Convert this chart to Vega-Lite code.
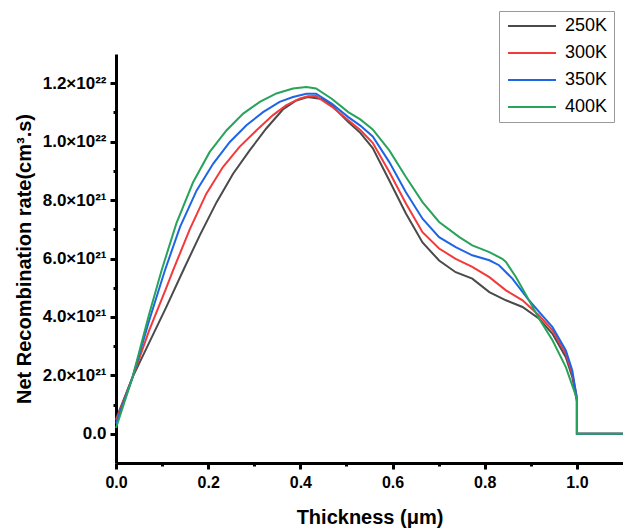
{
  "$schema": "https://vega.github.io/schema/vega-lite/v6.json",
  "width": 507,
  "height": 409,
  "autosize": {"type": "none"},
  "padding": {"left": 116, "top": 54, "right": 0, "bottom": 68},
  "background": "white",
  "config": {
    "view": {"stroke": null},
    "font": "Liberation Sans"
  },
  "data": {"values": [
    {"T":"250K","x":0,"y":0.5e21},{"T":"250K","x":0.036,"y":1.94e21},{"T":"250K","x":0.072,"y":3.12e21},{"T":"250K","x":0.108,"y":4.3e21},{"T":"250K","x":0.149,"y":5.7e21},{"T":"250K","x":0.182,"y":6.8e21},{"T":"250K","x":0.218,"y":7.92e21},{"T":"250K","x":0.254,"y":8.9e21},{"T":"250K","x":0.29,"y":9.7e21},{"T":"250K","x":0.326,"y":10.45e21},{"T":"250K","x":0.362,"y":11.1e21},{"T":"250K","x":0.391,"y":11.41e21},{"T":"250K","x":0.416,"y":11.53e21},{"T":"250K","x":0.45,"y":11.45e21},{"T":"250K","x":0.468,"y":11.24e21},{"T":"250K","x":0.504,"y":10.67e21},{"T":"250K","x":0.53,"y":10.3e21},{"T":"250K","x":0.557,"y":9.78e21},{"T":"250K","x":0.593,"y":8.67e21},{"T":"250K","x":0.629,"y":7.54e21},{"T":"250K","x":0.665,"y":6.55e21},{"T":"250K","x":0.701,"y":5.93e21},{"T":"250K","x":0.737,"y":5.53e21},{"T":"250K","x":0.773,"y":5.31e21},{"T":"250K","x":0.81,"y":4.85e21},{"T":"250K","x":0.846,"y":4.57e21},{"T":"250K","x":0.882,"y":4.34e21},{"T":"250K","x":0.918,"y":3.94e21},{"T":"250K","x":0.947,"y":3.42e21},{"T":"250K","x":0.976,"y":2.62e21},{"T":"250K","x":0.99,"y":1.94e21},{"T":"250K","x":1.0,"y":1.1e21},{"T":"250K","x":1.0,"y":0},{"T":"250K","x":1.1,"y":0},
    {"T":"300K","x":0,"y":0.45e21},{"T":"300K","x":0.036,"y":1.94e21},{"T":"300K","x":0.072,"y":3.54e21},{"T":"300K","x":0.108,"y":4.95e21},{"T":"300K","x":0.124,"y":5.6e21},{"T":"300K","x":0.16,"y":7.0e21},{"T":"300K","x":0.196,"y":8.22e21},{"T":"300K","x":0.232,"y":9.13e21},{"T":"300K","x":0.268,"y":9.82e21},{"T":"300K","x":0.305,"y":10.39e21},{"T":"300K","x":0.34,"y":10.9e21},{"T":"300K","x":0.369,"y":11.24e21},{"T":"300K","x":0.398,"y":11.47e21},{"T":"300K","x":0.416,"y":11.55e21},{"T":"300K","x":0.434,"y":11.56e21},{"T":"300K","x":0.468,"y":11.2e21},{"T":"300K","x":0.504,"y":10.73e21},{"T":"300K","x":0.53,"y":10.4e21},{"T":"300K","x":0.557,"y":9.96e21},{"T":"300K","x":0.593,"y":8.96e21},{"T":"300K","x":0.629,"y":7.88e21},{"T":"300K","x":0.665,"y":6.9e21},{"T":"300K","x":0.701,"y":6.34e21},{"T":"300K","x":0.737,"y":5.99e21},{"T":"300K","x":0.773,"y":5.71e21},{"T":"300K","x":0.81,"y":5.36e21},{"T":"300K","x":0.846,"y":4.91e21},{"T":"300K","x":0.882,"y":4.57e21},{"T":"300K","x":0.918,"y":4.05e21},{"T":"300K","x":0.947,"y":3.54e21},{"T":"300K","x":0.976,"y":2.74e21},{"T":"300K","x":0.99,"y":2.05e21},{"T":"300K","x":1.0,"y":1.25e21},{"T":"300K","x":1.0,"y":0},{"T":"300K","x":1.1,"y":0},
    {"T":"350K","x":0,"y":0.35e21},{"T":"350K","x":0.036,"y":1.94e21},{"T":"350K","x":0.072,"y":3.88e21},{"T":"350K","x":0.106,"y":5.59e21},{"T":"350K","x":0.139,"y":7.08e21},{"T":"350K","x":0.175,"y":8.33e21},{"T":"350K","x":0.211,"y":9.25e21},{"T":"350K","x":0.247,"y":9.99e21},{"T":"350K","x":0.283,"y":10.56e21},{"T":"350K","x":0.319,"y":11.01e21},{"T":"350K","x":0.355,"y":11.36e21},{"T":"350K","x":0.384,"y":11.53e21},{"T":"350K","x":0.413,"y":11.64e21},{"T":"350K","x":0.434,"y":11.64e21},{"T":"350K","x":0.468,"y":11.3e21},{"T":"350K","x":0.504,"y":10.84e21},{"T":"350K","x":0.53,"y":10.55e21},{"T":"350K","x":0.557,"y":10.18e21},{"T":"350K","x":0.593,"y":9.3e21},{"T":"350K","x":0.629,"y":8.27e21},{"T":"350K","x":0.665,"y":7.36e21},{"T":"350K","x":0.701,"y":6.73e21},{"T":"350K","x":0.737,"y":6.39e21},{"T":"350K","x":0.773,"y":6.11e21},{"T":"350K","x":0.81,"y":5.94e21},{"T":"350K","x":0.831,"y":5.77e21},{"T":"350K","x":0.86,"y":5.31e21},{"T":"350K","x":0.896,"y":4.57e21},{"T":"350K","x":0.918,"y":4.17e21},{"T":"350K","x":0.947,"y":3.65e21},{"T":"350K","x":0.976,"y":2.85e21},{"T":"350K","x":0.99,"y":2.17e21},{"T":"350K","x":1.0,"y":1.2e21},{"T":"350K","x":1.0,"y":0},{"T":"350K","x":1.1,"y":0},
    {"T":"400K","x":0,"y":0.2e21},{"T":"400K","x":0.036,"y":1.94e21},{"T":"400K","x":0.072,"y":4.1e21},{"T":"400K","x":0.099,"y":5.6e21},{"T":"400K","x":0.131,"y":7.2e21},{"T":"400K","x":0.167,"y":8.6e21},{"T":"400K","x":0.203,"y":9.64e21},{"T":"400K","x":0.24,"y":10.39e21},{"T":"400K","x":0.276,"y":10.96e21},{"T":"400K","x":0.312,"y":11.36e21},{"T":"400K","x":0.348,"y":11.65e21},{"T":"400K","x":0.384,"y":11.82e21},{"T":"400K","x":0.413,"y":11.87e21},{"T":"400K","x":0.434,"y":11.82e21},{"T":"400K","x":0.468,"y":11.47e21},{"T":"400K","x":0.504,"y":11.01e21},{"T":"400K","x":0.53,"y":10.76e21},{"T":"400K","x":0.557,"y":10.42e21},{"T":"400K","x":0.593,"y":9.7e21},{"T":"400K","x":0.629,"y":8.79e21},{"T":"400K","x":0.665,"y":7.93e21},{"T":"400K","x":0.701,"y":7.25e21},{"T":"400K","x":0.745,"y":6.73e21},{"T":"400K","x":0.773,"y":6.45e21},{"T":"400K","x":0.81,"y":6.22e21},{"T":"400K","x":0.838,"y":5.99e21},{"T":"400K","x":0.846,"y":5.88e21},{"T":"400K","x":0.868,"y":5.36e21},{"T":"400K","x":0.896,"y":4.57e21},{"T":"400K","x":0.918,"y":3.94e21},{"T":"400K","x":0.947,"y":3.2e21},{"T":"400K","x":0.976,"y":2.28e21},{"T":"400K","x":1.0,"y":1.2e21},{"T":"400K","x":1.0,"y":0},{"T":"400K","x":1.1,"y":0}
  ]},
  "resolve": {"axis": {"x": "independent", "y": "independent"}},
  "layer": [
    {
      "mark": {"type": "line", "opacity": 0},
      "encoding": {
        "x": {"field": "x", "type": "quantitative", "scale": {"domain": [0, 1.1], "nice": false, "zero": false},
          "axis": {"orient": "bottom", "values": [0.1, 0.3, 0.5, 0.7, 0.9], "labels": false, "domain": false, "grid": false, "ticks": true, "tickSize": 3, "tickWidth": 3, "tickColor": "black", "title": null}},
        "y": {"field": "y", "type": "quantitative", "scale": {"domain": [-1e21, 1.3e22], "nice": false, "zero": false},
          "axis": {"orient": "left", "values": [1e21, 3e21, 5e21, 7e21, 9e21, 11e21], "labels": false, "domain": false, "grid": false, "ticks": true, "tickSize": 3, "tickWidth": 3, "tickColor": "black", "title": null}},
        "detail": {"field": "T"},
        "order": {"value": null}
      }
    },
    {
      "mark": {"type": "line", "strokeWidth": 2},
      "encoding": {
        "x": {"field": "x", "type": "quantitative",
          "axis": {"orient": "bottom", "values": [0, 0.2, 0.4, 0.6, 0.8, 1.0], "format": ".1f", "grid": false, "labelFlush": false,
            "domainColor": "black", "domainWidth": 3, "tickColor": "black", "tickWidth": 3, "tickSize": 6,
            "labelFont": "Liberation Sans", "labelFontWeight": "bold", "labelFontSize": 16, "labelColor": "black", "labelPadding": 5,
            "title": "Thickness (μm)", "titleFont": "Liberation Sans", "titleFontWeight": "bold", "titleFontSize": 20, "titleColor": "black", "titlePadding": 17}},
        "y": {"field": "y", "type": "quantitative",
          "axis": {"orient": "left", "values": [0, 2e21, 4e21, 6e21, 8e21, 10e21, 12e21], "grid": false, "labelFlush": false,
            "labelExpr": "datum.value == 0 ? '0.0' : (datum.value >= 9.9e21 ? format(datum.value / 1e22, '.1f') + '×10²²' : format(datum.value / 1e21, '.1f') + '×10²¹')",
            "domainColor": "black", "domainWidth": 3, "tickColor": "black", "tickWidth": 3, "tickSize": 6,
            "labelFont": "Liberation Sans", "labelFontWeight": "bold", "labelFontSize": 17, "labelColor": "black", "labelPadding": 4,
            "title": "Net Recombination rate(cm³.s)", "titleFont": "Liberation Sans", "titleFontWeight": "bold", "titleFontSize": 20, "titleColor": "black", "titlePadding": 8}},
        "color": {"field": "T", "type": "nominal",
          "scale": {"domain": ["250K", "300K", "350K", "400K"], "range": ["#4a4a4a", "#f23a3a", "#1e65e6", "#27a35b"]},
          "legend": {"orient": "none", "legendX": 383, "legendY": -43, "title": null,
            "symbolType": "M-1,0H7", "symbolSize": 144, "symbolStrokeWidth": 2,
            "labelFont": "Liberation Sans", "labelFontSize": 18, "labelColor": "black", "labelOffset": 42,
            "rowPadding": 9, "padding": 6, "strokeColor": "#999999", "fillColor": "white"}},
        "order": {"value": null}
      }
    }
  ]
}
